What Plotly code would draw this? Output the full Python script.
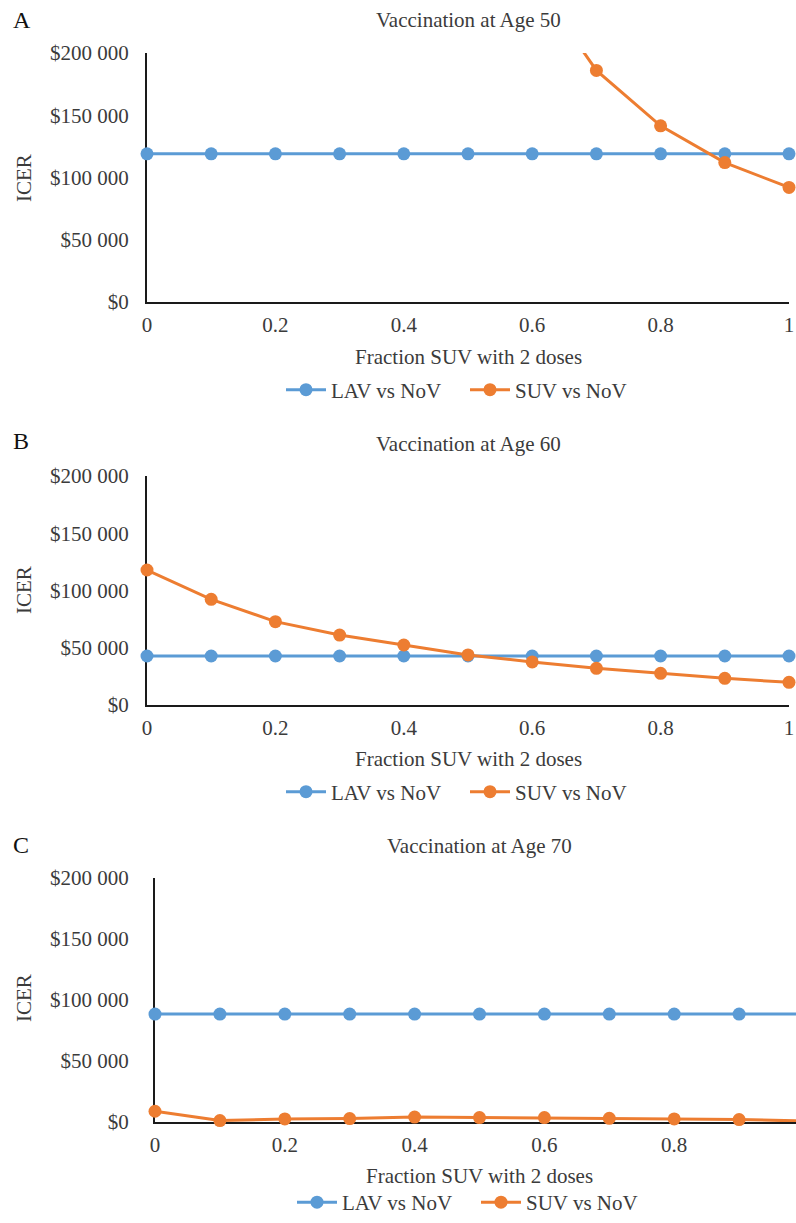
import plotly.graph_objects as go

# ---------------- data ----------------
x_frac = [0.0, 0.1, 0.2, 0.3, 0.4, 0.5, 0.6, 0.7, 0.8, 0.9, 1.0]

lav_50 = [119000, 119000, 119000, 119000, 119000, 119000, 119000, 119000, 119000, 119000, 119000]
suv_50 = [None, None, None, None, None, None, 260000, 186000, 141500, 112000, 92000]

lav_60 = [42800, 42800, 42800, 42800, 42800, 42800, 42800, 42800, 42800, 42800, 42800]
suv_60 = [117900, 92300, 72800, 61100, 52400, 43700, 37600, 32000, 27700, 23300, 19800]

lav_70 = [88500, 88500, 88500, 88500, 88500, 88500, 88500, 88500, 88500, 88500, 88500]
suv_70 = [8800, 1200, 2500, 2800, 4000, 3600, 3600, 3000, 2500, 2000, 800]

x_tick_vals = [0, 0.2, 0.4, 0.6, 0.8, 1.0]
x_tick_text = ["0", "0.2", "0.4", "0.6", "0.8", "1"]
y_tick_vals = [0, 50000, 100000, 150000, 200000]
y_tick_text = ["$0", "$50 000", "$100 000", "$150 000", "$200 000"]

panel_letters = ["A", "B", "C"]
panel_titles = ["Vaccination at Age 50", "Vaccination at Age 60", "Vaccination at Age 70"]
series_names = ["LAV vs NoV", "SUV vs NoV"]
x_title = "Fraction SUV with 2 doses"
y_title = "ICER"

# ---------------- style ----------------
W, H = 796, 1223
FONT = "Liberation Serif"
TXT = "#3b3b3b"
BLUE = "#5B9BD5"
ORANGE = "#ED7D31"
Y_MAX = 200000
FS = 21


def py(pix):
    return 1 - pix / H


def px(pix):
    return pix / W


panels = [
    dict(lav=lav_50, suv=suv_50, xd=(147, 789), yd=(53, 302), xr=1.0,
         title_y=20, letter_y=20, xt_y=357, leg_y=390, icer_y=178, leg_x=465, stand=12),
    dict(lav=lav_60, suv=suv_60, xd=(147, 789), yd=(476, 705), xr=1.0,
         title_y=444, letter_y=441, xt_y=759, leg_y=792, icer_y=590, leg_x=465, stand=12),
    dict(lav=lav_70, suv=suv_70, xd=(155, 796), yd=(878, 1122), xr=(796 - 155) / 649,
         title_y=846, letter_y=845, xt_y=1176, leg_y=None, icer_y=998, leg_x=476, stand=20),
]

fig = go.Figure()
annotations = []
layout_axes = {}

for i, p in enumerate(panels):
    n = "" if i == 0 else str(i + 1)
    legname = "legend" + n
    for vals, name, col in [(p["lav"], series_names[0], BLUE), (p["suv"], series_names[1], ORANGE)]:
        fig.add_trace(go.Scatter(
            x=x_frac, y=vals, name=name, mode="lines+markers",
            line=dict(color=col, width=3),
            marker=dict(color=col, size=13, line=dict(width=0)),
            cliponaxis=False, hoverinfo="skip",
            xaxis="x" + n, yaxis="y" + n, legend=legname,
        ))
    layout_axes["xaxis" + n] = dict(
        domain=[px(p["xd"][0]), min(1.0, px(p["xd"][1]))], anchor="y" + n,
        range=[0, p["xr"]], tickvals=x_tick_vals, ticktext=x_tick_text,
        showline=True, linecolor="#1a1a1a", linewidth=2, showgrid=False,
        zeroline=False, ticks="", ticklabelstandoff=3, layer="below traces",
        automargin=False, fixedrange=True,
        tickfont=dict(family=FONT, size=FS, color=TXT),
    )
    layout_axes["yaxis" + n] = dict(
        domain=[py(p["yd"][1]), py(p["yd"][0])], anchor="x" + n,
        range=[0, Y_MAX], tickvals=y_tick_vals, ticktext=y_tick_text,
        showline=True, linecolor="#1a1a1a", linewidth=2, showgrid=False,
        zeroline=False, ticks="", ticklabelstandoff=p["stand"], layer="below traces",
        automargin=False, fixedrange=True,
        tickfont=dict(family=FONT, size=FS, color=TXT),
    )
    if p["leg_y"] is None:
        leg_pos = dict(y=0, yanchor="bottom")
    else:
        leg_pos = dict(y=py(p["leg_y"]), yanchor="middle")
    layout_axes[legname] = dict(
        orientation="h", x=px(p["leg_x"]), xanchor="center",
        font=dict(family=FONT, size=FS, color=TXT),
        bgcolor="rgba(0,0,0,0)", itemwidth=40, tracegroupgap=0,
        entrywidth=129, entrywidthmode="pixels",
        **leg_pos,
    )
    cx = (p["xd"][0] + p["xd"][0] + 649) / 2 if i == 2 else (p["xd"][0] + p["xd"][1]) / 2
    annotations += [
        dict(text=panel_titles[i], x=px(cx), y=py(p["title_y"]), xref="paper", yref="paper",
             showarrow=False, xanchor="center", yanchor="middle",
             font=dict(family=FONT, size=FS, color=TXT)),
        dict(text=panel_letters[i], x=px(11), y=py(p["letter_y"]), xref="paper", yref="paper",
             showarrow=False, xanchor="left", yanchor="middle",
             font=dict(family=FONT, size=24, color="#111111")),
        dict(text=x_title, x=px(cx), y=py(p["xt_y"]), xref="paper", yref="paper",
             showarrow=False, xanchor="center", yanchor="middle",
             font=dict(family=FONT, size=FS, color=TXT)),
        dict(text=y_title, x=px(24), y=py(p["icer_y"]), xref="paper", yref="paper",
             showarrow=False, xanchor="center", yanchor="middle", textangle=-90,
             font=dict(family=FONT, size=FS, color=TXT)),
    ]

fig.update_layout(
    width=W, height=H, margin=dict(l=0, r=0, t=0, b=0, autoexpand=False),
    paper_bgcolor="white", plot_bgcolor="white",
    annotations=annotations, showlegend=True,
    **layout_axes,
)

fig.write_html("out.html", config={"displayModeBar": False},
               post_script="document.body.style.margin='0px';")
